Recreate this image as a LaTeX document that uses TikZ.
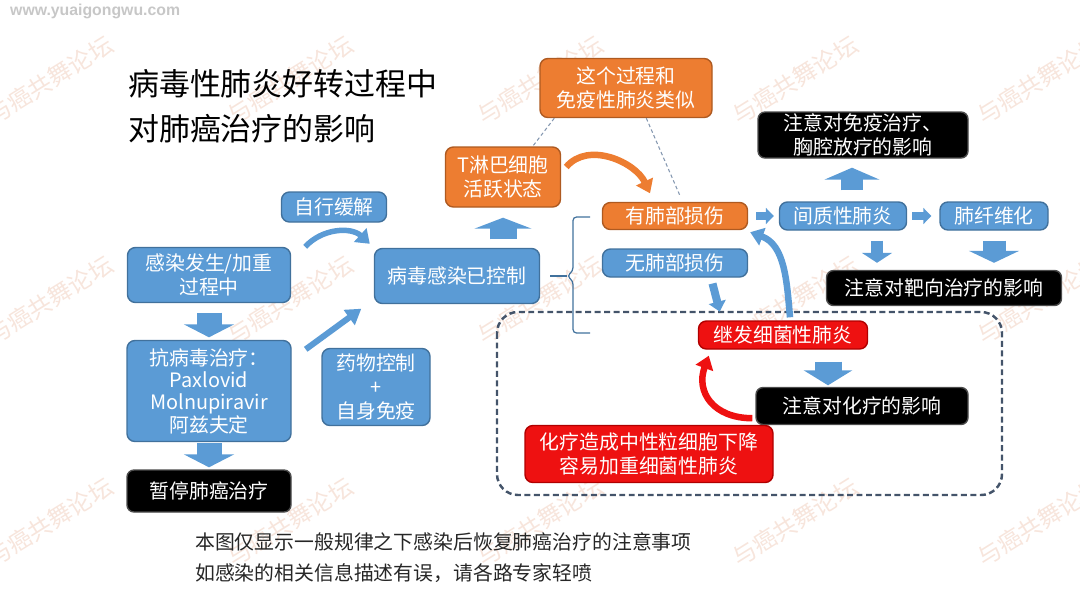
\documentclass[tikz,border=0pt]{standalone}
\usepackage{fontspec}
\setmainfont{Noto Sans CJK SC}
\newfontfamily\sitefont{Liberation Sans}
\definecolor{FlowBlue}{HTML}{5B9BD5}
\definecolor{FlowEdge}{HTML}{41719C}
\definecolor{FlowOrange}{HTML}{ED7D31}
\definecolor{OrangeEdge}{HTML}{AE5A21}
\definecolor{FlowRed}{HTML}{EE1111}
\definecolor{RedEdge}{HTML}{B00000}
\definecolor{FrameGray}{HTML}{44546A}
\definecolor{HintGray}{HTML}{8497B0}
\definecolor{MarkPink}{HTML}{F7E5DC}
\usetikzlibrary{positioning,arrows.meta,calc}

\begin{document}
\begin{tikzpicture}[x=0.2mm, y=0.2mm, font=\fontsize{11.3}{13.6}\selectfont,
    dims/.style 2 args={minimum width=#1, minimum height=#2},
    box/.style={rounded corners=4.5pt, align=center, text=white, inner sep=1pt, line width=0.8pt},
    bluebox/.style={box, draw=FlowEdge, fill=FlowBlue},
    orangebox/.style={box, draw=OrangeEdge, fill=FlowOrange},
    redbox/.style={box, draw=RedEdge, fill=FlowRed},
    blackbox/.style={box, draw=black!70, fill=black, rounded corners=4pt},
    fat/.style n args={3}{draw=FlowBlue, line width=#1, -{Triangle[width=#2, length=#3]}},
    bow/.style={line width=0.13cm, -{Triangle[width=0.36cm, length=0.26cm]}},
    hint/.style={draw=HintGray, line width=0.6pt, dash pattern=on 2pt off 1.5pt},
    bracket/.style={draw=FlowEdge, line width=0.7pt},
    dashframe/.style={draw=FrameGray, line width=1.4pt, dash pattern=on 3.4pt off 2pt, rounded corners=0.42cm}]
  \useasboundingbox (0,0) rectangle (1080,-608);

  % watermark and site name
  \foreach \wx in {50,290,540,795,1040}
    \foreach \wy in {80,300,522}
      \node[text=MarkPink, rotate=32, font=\fontsize{13.5}{13.5}\selectfont] (mark-\wx-\wy) at (\wx,-\wy) {与癌共舞论坛};
  \node[anchor=west, text=black!22, font=\sitefont\bfseries\fontsize{9}{10}\selectfont] (site) at (4,-11) {www.yuaigongwu.com};

  % title
  \node[anchor=base west, font=\fontsize{17.6}{24}\selectfont] (title1) at (122,-95) {病毒性肺炎好转过程中};
  \node[anchor=base west, font=\fontsize{17.6}{24}\selectfont] (title2) at (122,-140) {对肺癌治疗的影响};

  % dashed frame round the chemo part
  \draw[dashframe] (497,-312) rectangle (1002,-495);

  % left column
  \node[bluebox, dims={3.26cm}{1.1cm}] (infect) at (209,-275) {感染发生/加重\\过程中};
  \node[bluebox, dims={3.28cm}{2.02cm}, font=\fontsize{11.3}{12.7}\selectfont] (antiviral) at (209,-391) {抗病毒治疗：\\Paxlovid\\Molnupiravir\\阿兹夫定};
  \node[blackbox, dims={3.28cm}{0.84cm}] (pause) at (209,-491) {暂停肺癌治疗};
  \node[bluebox, dims={2.1cm}{0.6cm}] (selfrelief) at (334,-207) {自行缓解};
  \node[bluebox, dims={2.16cm}{1.54cm}] (drug) at (376,-387) {药物控制\\+\\自身免疫};
  \node[bluebox, dims={3.3cm}{1.1cm}] (controlled) at (457,-276) {病毒感染已控制};

  % middle
  \node[orangebox, dims={2.3cm}{1.2cm}] (Tcell) at (503,-177) {T淋巴细胞\\活跃状态};
  \node[orangebox, dims={3.44cm}{1.18cm}] (similar) at (626,-88) {这个过程和\\免疫性肺炎类似};
  \node[orangebox, dims={2.9cm}{0.54cm}] (lungdmg) at (675,-216) {有肺部损伤};
  \node[bluebox, dims={2.9cm}{0.56cm}] (nodmg) at (675,-263) {无肺部损伤};

  % right
  \node[bluebox, dims={2.54cm}{0.56cm}] (interstitial) at (843,-216) {间质性肺炎};
  \node[bluebox, dims={2.16cm}{0.56cm}] (fibrosis) at (994,-216) {肺纤维化};
  \node[blackbox, dims={4.2cm}{0.92cm}] (immuno) at (863,-135) {注意对免疫治疗、\\胸腔放疗的影响};
  \node[blackbox, dims={4.7cm}{0.7cm}] (targeted) at (944,-288) {注意对靶向治疗的影响};

  % inside the frame
  \node[redbox, dims={3.38cm}{0.56cm}] (bacterial) at (783,-335) {继发细菌性肺炎};
  \node[blackbox, dims={4.24cm}{0.74cm}] (chemo) at (862,-406) {注意对化疗的影响};
  \node[redbox, dims={4.96cm}{1.14cm}] (neutro) at (649,-454) {化疗造成中性粒细胞下降\\容易加重细菌性肺炎};

  % notes
  \node[anchor=base west, text=black!85] (note1) at (189,-549) {本图仅显示一般规律之下感染后恢复肺癌治疗的注意事项};
  \node[anchor=base west, text=black!85] (note2) at (189,-580) {如感染的相关信息描述有误，请各路专家轻喷};

  % block arrows
  \draw[fat={0.5cm}{1.0cm}{0.26cm}, shorten <=0.19cm, shorten >=0.05cm] (infect.south) -- (antiviral.north);
  \draw[fat={0.5cm}{1.0cm}{0.26cm}, shorten <=0.02cm, shorten >=0.04cm] (antiviral.south) -- (pause.north);
  \draw[fat={0.54cm}{1.14cm}{0.22cm}, shorten <=0.17cm, shorten >=0.2cm] (controlled.north -| Tcell.south) -- (Tcell.south);
  \draw[fat={0.44cm}{1.1cm}{0.24cm}, shorten <=0.22cm, shorten >=0.18cm] ([xshift=0.18cm]interstitial.north) -- ([xshift=0.18cm]interstitial.north |- immuno.south);
  \draw[fat={0.24cm}{0.6cm}{0.2cm}, shorten <=0.2cm, shorten >=0.14cm] ([xshift=0.68cm]interstitial.south) -- ([xshift=0.68cm]interstitial.south |- targeted.north);
  \draw[fat={0.46cm}{1.0cm}{0.24cm}, shorten <=0.2cm, shorten >=0.14cm] (fibrosis.south) -- (fibrosis.south |- targeted.north);
  \draw[fat={0.16cm}{0.32cm}{0.16cm}, shorten <=0.16cm, shorten >=0.1cm] (lungdmg.east) -- (interstitial.west);
  \draw[fat={0.16cm}{0.32cm}{0.16cm}, shorten <=0.1cm, shorten >=0.16cm] (interstitial.east) -- (fibrosis.west);
  \draw[fat={0.54cm}{0.96cm}{0.3cm}, shorten <=0.24cm, shorten >=0.03cm] ([xshift=0.9cm]bacterial.south) -- ([xshift=0.9cm]bacterial.south |- chemo.north);
  \draw[fat={0.16cm}{0.34cm}{0.2cm}, shorten <=0.12cm, shorten >=0.18cm] ([xshift=0.72cm]nodmg.south) -- ([xshift=-1.22cm]bacterial.north);
  \draw[fat={0.12cm}{0.36cm}{0.3cm}] ([xshift=0.28cm,yshift=-0.19cm]antiviral.north east) -- ([xshift=-0.25cm,yshift=-0.09cm]controlled.south west);

  % curved arrows
  \draw[bow, draw=FlowBlue, line width=0.11cm] ([xshift=0.28cm]infect.north east) to[bend left=45] ([xshift=-0.08cm,yshift=0.08cm]controlled.north west);
  \draw[bow, draw=FlowOrange] ([xshift=0.1cm,yshift=0.2cm]Tcell.east) to[out=50,in=115] ([xshift=-0.5cm,yshift=0.17cm]lungdmg.north);
  \draw[bow, draw=FlowBlue] ([xshift=0.14cm,yshift=0.06cm]bacterial.north) to[out=95,in=-20] ([xshift=0.04cm,yshift=-0.04cm]lungdmg.south east);
  \draw[bow, draw=FlowRed] ([xshift=-0.06cm,yshift=0.14cm]chemo.south west) to[out=180,in=-110,looseness=1.3] ([xshift=0.22cm,yshift=-0.12cm]bacterial.south west);

  % dashed hints to the orange note
  \draw[hint] ([xshift=0.3cm]similar.south west) -- ([xshift=-0.57cm]Tcell.north east);
  \draw[hint] ([xshift=2.14cm]similar.south west) -- ([xshift=0.1cm,yshift=0.12cm]lungdmg.north);

  % bracket
  \coordinate (bracetip) at (567,-276);
  \draw[bracket, rounded corners=2pt] (590,-217) -- (573,-217) -- (573,-271) -- (bracetip) -- (573,-281) -- (573,-333) -- (590,-333);
  \draw[bracket] ([xshift=0.2cm]controlled.east) -- (bracetip);
\end{tikzpicture}
\end{document}
